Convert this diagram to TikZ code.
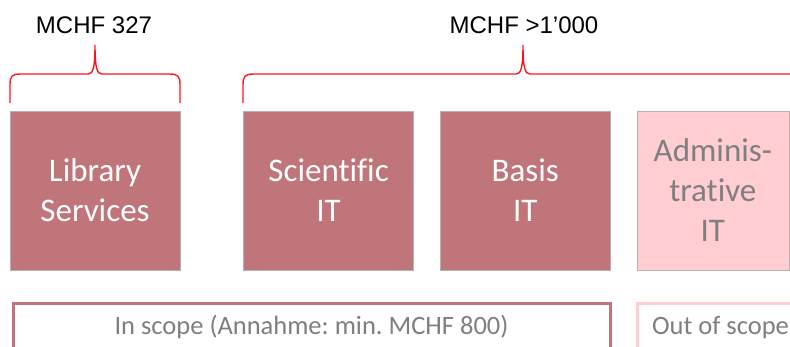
\documentclass[tikz,border=0pt]{standalone}
\usepackage{fontspec}
\setmainfont[Ligatures=NoCommon]{Carlito}
\newfontfamily\headfont{Liberation Sans}
\usepackage{tikz}
\usetikzlibrary{positioning,calc}
\definecolor{rosedark}{RGB}{191,117,122}
\definecolor{roselight}{RGB}{255,205,210}
\definecolor{textgray}{RGB}{127,127,127}
\definecolor{bracered}{RGB}{255,20,30}
\frenchspacing

\begin{document}
\begin{tikzpicture}[
                x=1pt, y=-1pt,
                itbox/.style={rectangle, draw=black!30, line width=0.6pt, fill=rosedark, text=white, minimum width=170pt, minimum height=159pt, align=center, font=\fontsize{33}{40}\selectfont},
                itboxout/.style={itbox, fill=roselight, text=textgray, minimum width=152pt},
                scopebox/.style={rectangle, draw=rosedark, line width=3pt, fill=white, text=textgray, inner ysep=0pt, text height=31.5pt, text depth=30pt, anchor=north west, font=\fontsize{26.5}{30}\selectfont},
                sumlabel/.style={anchor=base, font=\headfont\fontsize{24}{28}\selectfont},
                bracket/.style={draw=bracered, line width=1.4pt},
            ]
            \useasboundingbox (0,0) rectangle (790,346);
            \clip (0,0) rectangle (790,346);
            %Boxes
            \node[itbox]       (library)    at (95,190.5)              {Library\\Services};
            \node[itbox]       (scientific)   [right=63pt of library]  {Scientific\\IT};
            \node[itbox]       (basis)        [right=26pt of scientific] {Basis\\IT};
            \node[itboxout]    (admin)        [right=26pt of basis]    {Adminis-\\trative\\IT};

            %Scope
            \node[scopebox, minimum width=597pt] (inscope)  at (11.5,301.5) {In scope (Annahme: min. MCHF 800)};
            \node[scopebox, draw=roselight, minimum width=167pt] (outscope) at (635.5,301.5) {Out of scope};

            %Sums
            \node[sumlabel]    (sumlib)   at (94,33)  {MCHF 327};
            \node[sumlabel]    (sumrest)  at (524,33) {MCHF >1’000};

            %Braces
            \draw[bracket] (10,103) -- (10,85) .. controls (10,76) and (12,74) .. (21,74) -- (88,74)
                .. controls (93,74) and (95,68) .. (95,45) .. controls (95,68) and (97,74) .. (102,74)
                -- (169,74) .. controls (178,74) and (180,76) .. (180,85) -- (180,103);
            \draw[bracket] (243,103) -- (243,85) .. controls (243,76) and (245,74) .. (254,74) -- (516,74)
                .. controls (521,74) and (523,68) .. (523,45) .. controls (523,68) and (525,74) .. (530,74)
                -- (800,74);
        \end{tikzpicture}
\end{document}
